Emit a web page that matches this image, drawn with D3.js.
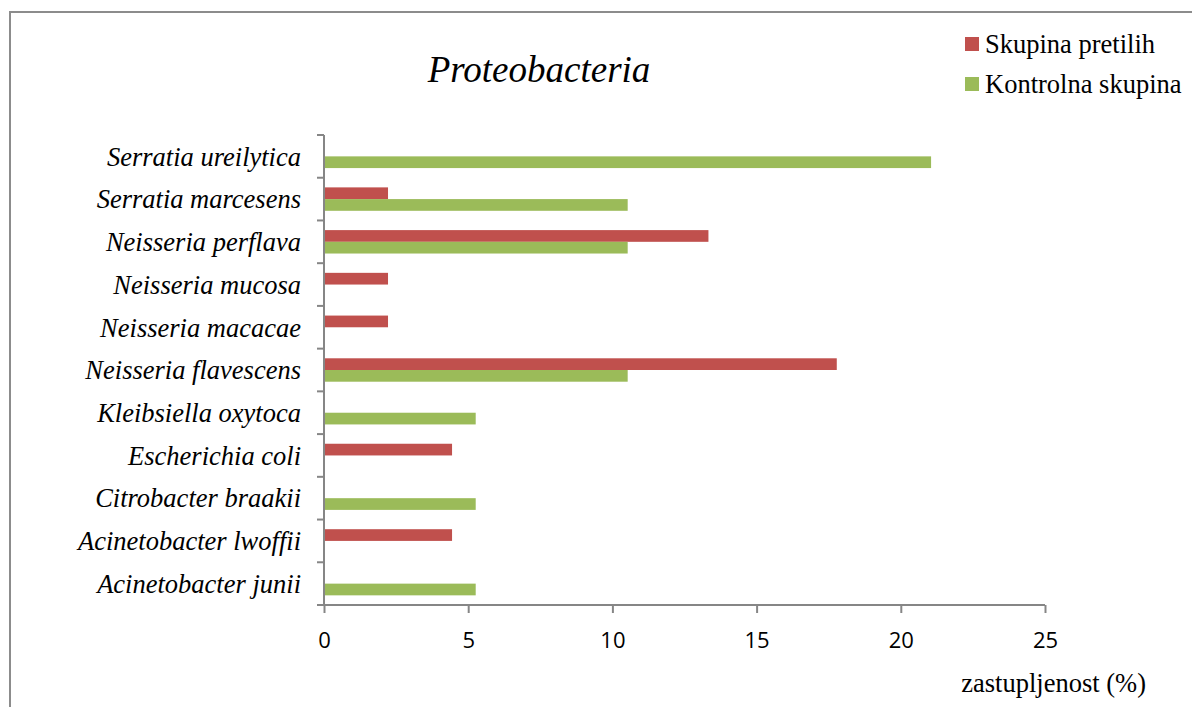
<!DOCTYPE html>
<html>
<head>
<meta charset="utf-8">
<script src="https://cdn.jsdelivr.net/npm/d3@7"></script>
<style>
  body { margin: 0; background: #fff; }
  svg { display: block; }
</style>
</head>
<body>
<svg id="chart" width="1192" height="707"></svg>
<script>
// categories top to bottom
const species = ['Serratia ureilytica', 'Serratia marcesens', 'Neisseria perflava',
    'Neisseria mucosa', 'Neisseria macacae', 'Neisseria flavescens',
    'Kleibsiella oxytoca', 'Escherichia coli', 'Citrobacter braakii',
    'Acinetobacter lwoffii', 'Acinetobacter junii'];

const pretili = [0, 2.22, 13.33, 2.22, 2.22, 17.78, 0, 4.44, 0, 4.44, 0];
const kontrolna = [21.05, 10.53, 10.53, 0, 0, 10.53, 5.26, 0, 5.26, 0, 5.26];

const seriesNames = ['Skupina pretilih', 'Kontrolna skupina'];
const xTicks = [0, 5, 10, 15, 20, 25];

const colors = ['#C0504D', '#9BBB59'];
const axisColor = '#868686';
const serif = "'Liberation Serif', Tinos, 'DejaVu Serif', serif";

var svg = d3.select('#chart');
var plotLeft = 324, plotRight = 1045, plotTop = 135, plotBottom = 605;

// outer frame (runs off the right/bottom edge like the source)
svg.append('rect')
    .attr('x', 10).attr('y', 12)
    .attr('width', 1200).attr('height', 720)
    .attr('fill', 'none')
    .attr('stroke', '#8c8c8c')
    .attr('stroke-width', 2);

var xs = d3.scaleLinear().domain([0, 25]).range([plotLeft, plotRight]);
var ys = d3.scaleBand().domain(species).range([plotTop, plotBottom]);
var barH = ys.bandwidth() * 0.274;

svg.append('text')
    .attr('x', 539).attr('y', 82)
    .attr('text-anchor', 'middle')
    .attr('font-family', serif)
    .attr('font-style', 'italic')
    .attr('font-size', 37)
    .text('Proteobacteria');

// bars
var rows = svg.append('g').selectAll('g')
    .data(species).enter().append('g')
    .attr('transform', function (d) { return 'translate(0,' + (ys(d) + ys.bandwidth() / 2) + ')'; });

rows.each(function (d, i) {
    var g = d3.select(this);
    [pretili[i], kontrolna[i]].forEach(function (v, s) {
        if (!v) return;
        g.append('rect')
            .attr('x', xs(0) + 1)
            .attr('y', s === 0 ? -barH : 0)
            .attr('width', xs(v) - xs(0) - 1)
            .attr('height', barH)
            .attr('fill', colors[s]);
    });
});

// y axis
var yAxis = svg.append('g').attr('transform', 'translate(' + plotLeft + ',0)');
yAxis.append('line')
    .attr('x1', 0).attr('x2', 0).attr('y1', plotTop).attr('y2', plotBottom)
    .attr('stroke', axisColor).attr('stroke-width', 2);
var yTickPos = species.map(function (d) { return ys(d); }).concat([plotBottom]);
yAxis.selectAll('line.tick').data(yTickPos).enter().append('line')
    .attr('class', 'tick')
    .attr('x1', -7).attr('x2', 0)
    .attr('y1', function (d) { return d; }).attr('y2', function (d) { return d; })
    .attr('stroke', axisColor).attr('stroke-width', 2);
yAxis.selectAll('text').data(species).enter().append('text')
    .attr('x', -23)
    .attr('y', function (d) { return ys(d) + ys.bandwidth() / 2; })
    .attr('dy', '0.35em')
    .attr('text-anchor', 'end')
    .attr('font-family', serif)
    .attr('font-style', 'italic')
    .attr('font-size', 26.5)
    .text(function (d) { return d; });

// x axis
var xAxis = svg.append('g').attr('transform', 'translate(0,' + plotBottom + ')')
    .call(d3.axisBottom(xs).tickValues(xTicks).tickSize(8).tickPadding(19).tickSizeOuter(0));
xAxis.select('.domain').attr('stroke', axisColor).attr('stroke-width', 2)
    .attr('d', 'M' + (plotLeft - 7) + ',0H' + plotRight);
xAxis.selectAll('.tick line').attr('stroke', axisColor).attr('stroke-width', 2);
xAxis.attr('font-family', "'Open Sans', 'Liberation Sans', sans-serif").attr('font-size', 22);
xAxis.selectAll('.tick text').attr('fill', '#000');

svg.append('text')
    .attr('x', 1146).attr('y', 692)
    .attr('text-anchor', 'end')
    .attr('font-family', serif)
    .attr('font-size', 26.5)
    .text('zastupljenost (%)');

// legend
var legend = svg.append('g').selectAll('g')
    .data(seriesNames).enter().append('g')
    .attr('transform', function (d, i) { return 'translate(965,' + (37 + i * 40) + ')'; });
legend.append('rect')
    .attr('width', 14).attr('height', 14)
    .attr('fill', function (d, i) { return colors[i]; });
legend.append('text')
    .attr('x', 20).attr('y', 16)
    .attr('font-family', serif)
    .attr('font-size', 26.5)
    .text(function (d) { return d; });
</script>
</body>
</html>
